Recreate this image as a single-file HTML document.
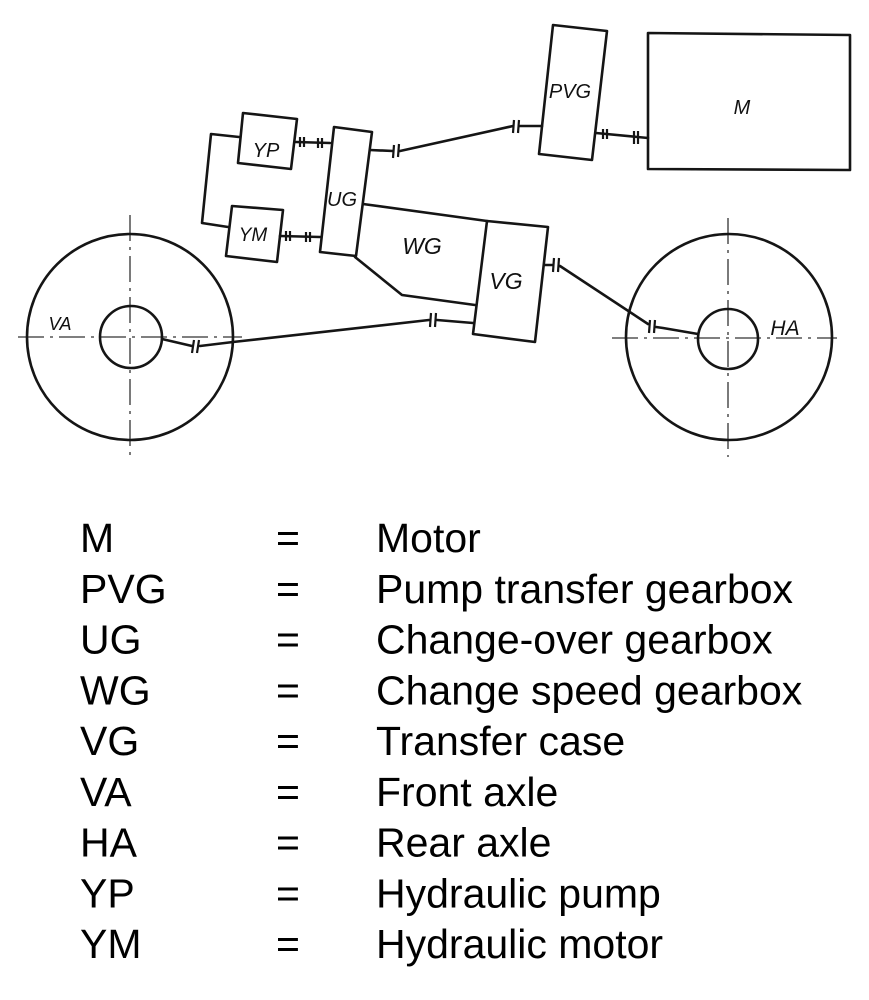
<!DOCTYPE html>
<html>
<head>
<meta charset="utf-8">
<style>
  html,body{margin:0;padding:0;background:#fff;}
  body{width:869px;height:1000px;overflow:hidden;}
  svg{display:block;}
  .ln{fill:none;stroke:#151515;stroke-width:2.6;stroke-linejoin:round;stroke-linecap:round;}
  .cp{fill:none;stroke:#151515;stroke-width:2.2;}
  .cl{fill:none;stroke:#333;stroke-width:1.3;stroke-dasharray:26,6,3,6;}
  .lb{font-family:"Liberation Sans",sans-serif;font-style:italic;fill:#111;text-anchor:middle;}
  .lg{font-family:"Liberation Sans",sans-serif;font-size:41px;fill:#000;}
</style>
</head>
<body>
<svg width="869" height="1000" viewBox="0 0 869 1000" xmlns="http://www.w3.org/2000/svg">
  <rect width="869" height="1000" fill="#fff"/>

  <!-- center lines -->
  <line class="cl" x1="130" y1="215" x2="130" y2="455"/>
  <line class="cl" x1="18" y1="337" x2="242" y2="337"/>
  <line class="cl" x1="728" y1="218" x2="728" y2="457"/>
  <line class="cl" x1="612" y1="338" x2="837" y2="338"/>

  <!-- wheels -->
  <circle class="ln" cx="130" cy="337" r="103"/>
  <circle class="ln" cx="131" cy="337" r="31"/>
  <circle class="ln" cx="729" cy="337" r="103"/>
  <circle class="ln" cx="728" cy="339" r="30"/>

  <!-- boxes -->
  <polygon class="ln" points="243,113 297,119 291,169 238,163"/>
  <polygon class="ln" points="232,206 283,210 277,262 226,256"/>
  <polygon class="ln" points="334,127 372,132 356,256 320,252"/>
  <polygon class="ln" points="553,25 607,31 592,160 539,154"/>
  <polygon class="ln" points="648,33 850,35 850,170 648,169"/>
  <polygon class="ln" points="487,221 548,227 535,342 473,334"/>

  <!-- WG outline lines -->
  <polyline class="ln" points="363,204 487,221"/>
  <polyline class="ln" points="355,257 402,295 475,305"/>

  <!-- YP/YM loop -->
  <polyline class="ln" points="239,137 211,134 202,223 228,227"/>

  <!-- YP - UG -->
  <line class="ln" x1="296" y1="142" x2="330" y2="143"/>
  <line class="cp" x1="300" y1="137" x2="300" y2="147"/>
  <line class="cp" x1="304" y1="137" x2="304" y2="147"/>
  <line class="cp" x1="318" y1="138" x2="318" y2="148"/>
  <line class="cp" x1="322" y1="138" x2="322" y2="148"/>

  <!-- YM - UG -->
  <line class="ln" x1="280" y1="236" x2="320" y2="237"/>
  <line class="cp" x1="286" y1="231" x2="286" y2="241"/>
  <line class="cp" x1="290" y1="231" x2="290" y2="241"/>
  <line class="cp" x1="306" y1="232" x2="306" y2="242"/>
  <line class="cp" x1="310" y1="232" x2="310" y2="242"/>

  <!-- UG - PVG -->
  <polyline class="ln" points="370,150 393,151"/>
  <polyline class="ln" points="400,151 513,126"/>
  <polyline class="ln" points="520,126 542,126"/>
  <line class="cp" x1="394" y1="145" x2="393" y2="158"/>
  <line class="cp" x1="399" y1="144" x2="398" y2="157"/>
  <line class="cp" x1="514" y1="120" x2="513" y2="133"/>
  <line class="cp" x1="519" y1="120" x2="518" y2="133"/>

  <!-- PVG - M -->
  <polyline class="ln" points="596,133 648,138"/>
  <line class="cp" x1="603" y1="129" x2="603" y2="139"/>
  <line class="cp" x1="607" y1="129" x2="607" y2="139"/>
  <line class="cp" x1="634" y1="131" x2="634" y2="144"/>
  <line class="cp" x1="638" y1="131" x2="638" y2="144"/>

  <!-- VG - HA -->
  <polyline class="ln" points="545,265 553,265"/>
  <polyline class="ln" points="560,266 648,324"/>
  <polyline class="ln" points="656,327 663,328 698,334"/>
  <line class="cp" x1="554" y1="258" x2="553" y2="272"/>
  <line class="cp" x1="559" y1="258" x2="558" y2="272"/>
  <line class="cp" x1="650" y1="320" x2="649" y2="333"/>
  <line class="cp" x1="655" y1="320" x2="654" y2="333"/>

  <!-- VA - VG -->
  <polyline class="ln" points="162,339 192,346"/>
  <polyline class="ln" points="200,346 233,342 429,320"/>
  <polyline class="ln" points="437,320 473,323"/>
  <line class="cp" x1="194" y1="340" x2="192" y2="353"/>
  <line class="cp" x1="199" y1="340" x2="197" y2="353"/>
  <line class="cp" x1="431" y1="313" x2="430" y2="327"/>
  <line class="cp" x1="436" y1="313" x2="435" y2="327"/>

  <!-- diagram labels -->
  <text class="lb" x="266" y="157" font-size="20">YP</text>
  <text class="lb" x="253" y="241" font-size="19">YM</text>
  <text class="lb" x="342" y="206" font-size="20">UG</text>
  <text class="lb" x="570" y="98" font-size="20">PVG</text>
  <text class="lb" x="742" y="114" font-size="20">M</text>
  <text class="lb" x="422" y="254" font-size="23">WG</text>
  <text class="lb" x="506" y="289" font-size="23">VG</text>
  <text class="lb" x="60" y="330" font-size="18">VA</text>
  <text class="lb" x="785" y="335" font-size="21">HA</text>

  <!-- legend -->
  <g class="lg">
    <text x="80" y="552">M</text>
    <text x="80" y="602.75">PVG</text>
    <text x="80" y="653.5">UG</text>
    <text x="80" y="704.25">WG</text>
    <text x="80" y="755">VG</text>
    <text x="80" y="805.75">VA</text>
    <text x="80" y="856.5">HA</text>
    <text x="80" y="907.25">YP</text>
    <text x="80" y="958">YM</text>

    <text x="276" y="552">=</text>
    <text x="276" y="602.75">=</text>
    <text x="276" y="653.5">=</text>
    <text x="276" y="704.25">=</text>
    <text x="276" y="755">=</text>
    <text x="276" y="805.75">=</text>
    <text x="276" y="856.5">=</text>
    <text x="276" y="907.25">=</text>
    <text x="276" y="958">=</text>

    <text x="376" y="552">Motor</text>
    <text x="376" y="602.75">Pump transfer gearbox</text>
    <text x="376" y="653.5">Change-over gearbox</text>
    <text x="376" y="704.25">Change speed gearbox</text>
    <text x="376" y="755">Transfer case</text>
    <text x="376" y="805.75">Front axle</text>
    <text x="376" y="856.5">Rear axle</text>
    <text x="376" y="907.25">Hydraulic pump</text>
    <text x="376" y="958">Hydraulic motor</text>
  </g>
</svg>
</body>
</html>
